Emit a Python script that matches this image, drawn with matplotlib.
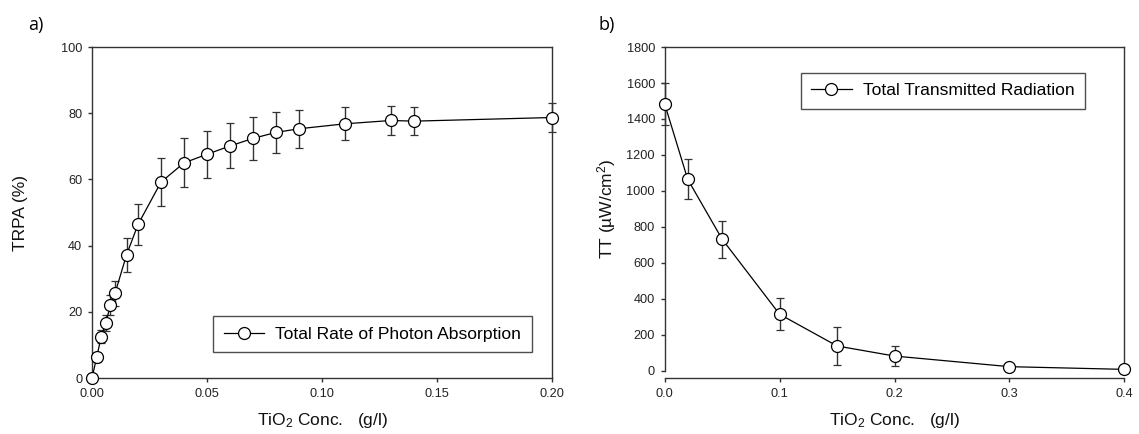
import numpy as np
import matplotlib
matplotlib.use("Agg")
import matplotlib.pyplot as plt

plt.rcParams["font.family"] = ["Liberation Sans", "DejaVu Sans"]
plt.rcParams["mathtext.fontset"] = "custom"
plt.rcParams["mathtext.rm"] = "Liberation Sans"
plt.rcParams["mathtext.default"] = "regular"

# a) total rate of photon absorption
label_a = "Total Rate of Photon Absorption"
conc_a = [0.0, 0.002, 0.004, 0.006, 0.008, 0.010, 0.015, 0.020, 0.030, 0.040,
          0.050, 0.060, 0.070, 0.080, 0.090, 0.110, 0.130, 0.140, 0.200]
trpa = [0.0, 6.2, 12.5, 16.7, 22.0, 25.6, 37.2, 46.4, 59.2, 65.0,
        67.6, 70.1, 72.4, 74.2, 75.3, 76.8, 77.8, 77.6, 78.7]
trpa_err = [0.0, 1.5, 2.0, 2.4, 3.0, 3.7, 5.1, 6.2, 7.2, 7.4,
            7.1, 6.8, 6.5, 6.1, 5.7, 5.0, 4.5, 4.3, 4.3]

# b) total transmitted radiation
label_b = "Total Transmitted Radiation"
conc_b = [0.0, 0.02, 0.05, 0.10, 0.15, 0.20, 0.30, 0.40]
tt = [1483, 1065, 732, 315, 139, 83, 24, 9]
tt_err = [117, 111, 103, 89, 104, 55, 15, 5]

fig = plt.figure(figsize=(11.39, 4.34), dpi=100)
ax1 = fig.add_axes([0.0808, 0.129, 0.4039, 0.7627])
ax2 = fig.add_axes([0.5836, 0.1452, 0.4035, 0.7465])

line_kw = dict(color="black", lw=0.9, marker="o", ms=8.6, mfc="white",
               mec="black", mew=0.9, ecolor="#333333", elinewidth=1.0,
               capsize=3.2, capthick=1.0, clip_on=False, zorder=3)

eb1 = ax1.errorbar(conc_a, trpa, yerr=trpa_err, **line_kw)
eb2 = ax2.errorbar(conc_b, tt, yerr=tt_err, **line_kw)

ax1.set_xlim(0, 0.2)
ax1.set_ylim(0, 100)
ax1.set_xticks(np.arange(0, 0.201, 0.05))
ax1.set_xticklabels(["0.00", "0.05", "0.10", "0.15", "0.20"])
ax1.set_yticks(range(0, 101, 20))

ax2.set_xlim(0, 0.4)
ax2.set_ylim(0, 1800)
ax2.set_xticks(np.arange(0, 0.401, 0.1))
ax2.set_xticklabels(["0.0", "0.1", "0.2", "0.3", "0.4"])
ax2.set_yticks(range(0, 1801, 200))
ax2.spines["bottom"].set_position(("outward", 5))

for ax in (ax1, ax2):
    for s in ax.spines.values():
        s.set_color("#333333")
        s.set_linewidth(1.0)
    ax.tick_params(direction="out", length=3, width=1, color="#333333",
                   labelsize=9.2, labelcolor="#222222", pad=4)
    ax.set_xlabel(r"TiO$_2$ Conc.   (g/l)", fontsize=12.5, color="#111111", labelpad=8)

ax1.set_ylabel("TRPA (%)", fontsize=12.5, color="#111111", labelpad=24)
ax2.set_ylabel("TT (µW/cm$^2$)", fontsize=12.5, color="#111111", labelpad=6)

leg_kw = dict(fontsize=12.6, frameon=True, fancybox=False, shadow=False,
              borderpad=0.6, handlelength=2.3, handletextpad=0.65,
              borderaxespad=0, numpoints=1)
leg1 = ax1.legend([eb1[0]], [label_a], loc="lower left",
                  bbox_to_anchor=(0.2637, 0.0776), **leg_kw)
leg2 = ax2.legend([eb2[0]], [label_b], loc="upper left",
                  bbox_to_anchor=(0.296, 0.9207), **leg_kw)
for leg in (leg1, leg2):
    leg.get_frame().set_edgecolor("#222222")
    leg.get_frame().set_linewidth(1.0)

fig.text(36 / 1139, 1 - 25 / 434, "a)", fontsize=13, ha="center", va="center",
         family=["Open Sans", "DejaVu Sans"])
fig.text(607 / 1139, 1 - 25 / 434, "b)", fontsize=13, ha="center", va="center",
         family=["Open Sans", "DejaVu Sans"])

fig.savefig("out.png", dpi=100)
